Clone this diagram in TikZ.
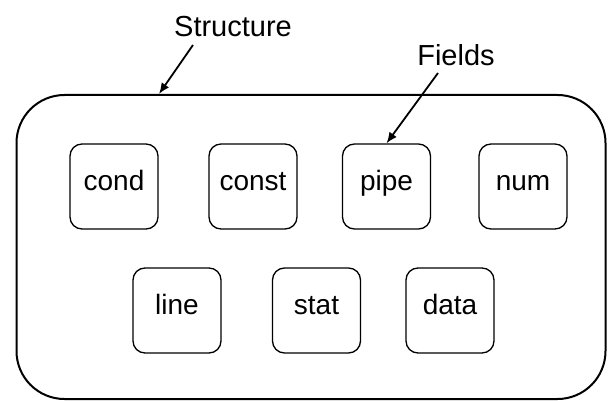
\documentclass[tikz,border=0pt]{standalone}
\usepackage{fontspec}
\setmainfont{Liberation Sans}
\usetikzlibrary{arrows.meta}

\begin{document}
\begin{tikzpicture}[x=1pt,y=-1pt]

\useasboundingbox (0,0) rectangle (608,401);

\tikzstyle{field}=[draw, line width=1.3pt, rounded corners=12pt, inner sep=0pt,
  minimum width=88pt, minimum height=85pt, text height=14pt, text depth=7pt,
  font=\fontsize{28}{32}\selectfont]
\tikzstyle{label}=[font=\fontsize{29}{34}\selectfont]
\tikzstyle{pointer}=[line width=1.8pt, -{Latex[length=11pt,width=9pt]}]

% outer structure box
\node[draw, line width=2pt, rounded corners=48pt, inner sep=0pt,
  minimum width=589pt, minimum height=304pt] (outer) at (311,247) {};

% first row
\node[field] (cond) at (114,186.5) {cond};
\node[field] (const) at (253,186.5) {const};
\node[field] (pipe) at (386.5,186.5) {pipe};
\node[field] (num) at (523,186.5) {num};

% second row
\node[field] (line) at (177,310.5) {line};
\node[field] (stat) at (316.5,310.5) {stat};
\node[field] (data) at (450,310.5) {data};

% labels
\node[label] (structlabel) at (233,27) {Structure};
\node[label] (fieldslabel) at (456,55) {Fields};

\coordinate (structtop) at (159,94);
\draw[pointer] (193,45) -- (structtop);
\draw[pointer] (438,73) -- (pipe.north);

\end{tikzpicture}
\end{document}
